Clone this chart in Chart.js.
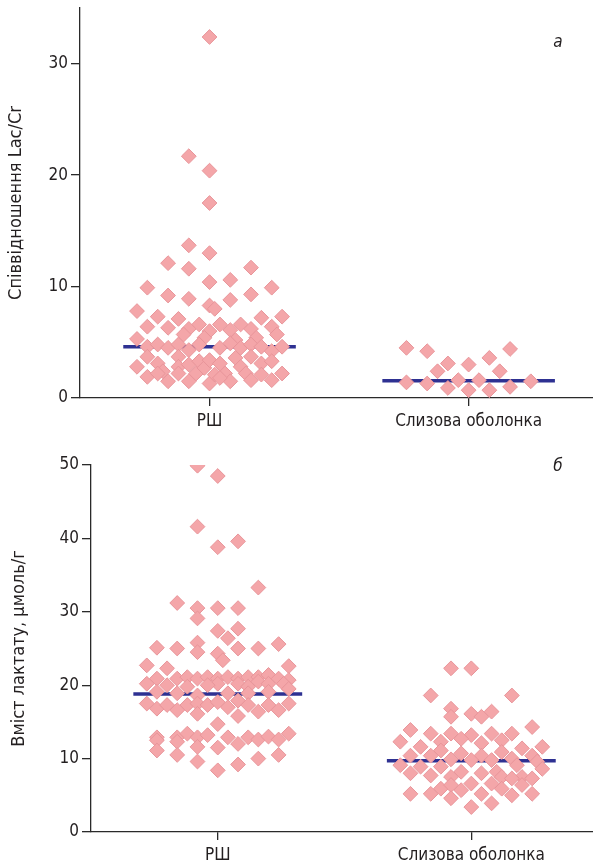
<!DOCTYPE html>
<html>
<head>
<meta charset="utf-8">
<script src="https://cdn.jsdelivr.net/npm/chart.js@4/dist/chart.umd.min.js"></script>
<style>
  body { margin: 0; background: #fff; }
  canvas { display: block; }
</style>
</head>
<body>
<canvas id="graficoLac" width="593" height="432"></canvas>
<canvas id="graficoLactat" width="593" height="433"></canvas>
<script>
// categories
const categorias = ['РШ', 'Слизова оболонка']

// panel a: Lac/Cr ratio (col = jitter column, val = value)
const lacRshCol = [0, -2, 0, 0, -2, 0, -4, -2, 4, 0, 2, -6, 6, -4, -2, 4, 2, 0, 0.5, -7, -5, -3, 5, 7,
  -6, -4, -2, -1, 1, 2, 3, 4, 6, 6.5, -2.5, 0, -0.5, -7, 4.5, 2.5,
  -6, -5, -4, -3, -2, -1, 1, 2, 3, 4, 5, 6, 7,
  -7, -6, -6, -5, -4.5, -4, -3, -3, -2, -2, -1.3, -1, -0.5, 0, 0, 0.5, 1, 1.5, 2, 2.5, 3, 3.5, 4, 4, 5, 6, 7, 6,
  1, -5, -3, 5]
const lacRshVal = [32.4, 21.7, 20.4, 17.5, 13.7, 13.0, 12.1, 11.6, 11.7, 10.4, 10.6, 9.9, 9.9, 9.2, 8.9, 9.3, 8.8, 8.3, 8.0, 7.8, 7.3, 7.1, 7.2, 7.3,
  6.4, 6.3, 6.2, 6.6, 6.6, 6.1, 6.6, 6.2, 6.4, 5.7, 5.7, 6.0, 5.4, 5.3, 5.4, 5.2,
  4.6, 4.8, 4.5, 4.8, 4.3, 4.8, 4.5, 4.9, 4.5, 4.8, 4.6, 4.2, 4.6,
  2.8, 3.7, 1.9, 3.1, 2.4, 1.5, 3.7, 2.8, 3.0, 1.5, 2.2, 3.3, 2.7, 1.3, 3.4, 2.1, 3.1, 2.2, 1.5, 3.6, 2.8, 2.2, 1.6, 3.7, 3.1, 1.6, 2.2, 3.3,
  1.8, 2.2, 2.2, 2.1]
const lacMucCol = [-6, -4, -2, -3, 0, 2, 4, 3, -6, -4, -2, -1, 0, 1, 2, 4, 6]
const lacMucVal = [4.5, 4.2, 3.1, 2.4, 3.0, 3.6, 4.4, 2.4, 1.4, 1.3, 0.9, 1.6, 0.7, 1.6, 0.7, 1.0, 1.5]
const lacMedianas = [4.6, 1.55]
const lacTicks = [0, 10, 20, 30]

// panel b: lactate content
const lactRshCol = [-2, 0, -2, 0, 2, 4, -4, -2, 0, 2, -2, 0, 2, 1, -6, -4, -2, -2, 0, 2, 4, 6,
  0.5, -7, -5, 7,
  -6, -4, -3, -2, -1, 0, 1, 2, 3, 4, 5, 6, 7,
  -7, -5, 0, 2, 4, 6.5, -3, -1, 3, 5,
  -6, -4, -2, 1, 3, 5, 7,
  -7, -6, -5, -4, -3, -2, -1, 0, 1, 2, 3, 4, 5, 6, 7,
  -2, 2, 0,
  -6, -4, -3, -2, -1, 1, 3, 4, 5, 6, 7,
  -6, -4, 2, -6, -2, 0, -4, 4, 6, -2, 2, 0]
const lactRshVal = [49.9, 48.5, 41.6, 38.8, 39.6, 33.3, 31.2, 30.5, 30.5, 30.5, 29.1, 27.4, 27.7, 26.4, 25.1, 25.0, 25.8, 24.5, 24.3, 25.0, 25.0, 25.6,
  23.4, 22.7, 22.3, 22.6,
  20.9, 20.9, 21.1, 20.9, 21.1, 20.9, 21.1, 20.9, 21.1, 21.1, 21.4, 20.9, 20.7,
  20.2, 20.0, 20.2, 20.2, 20.5, 20.2, 19.8, 20.0, 19.8, 20.2,
  19.1, 18.9, 18.6, 18.9, 18.9, 19.1, 19.5,
  17.5, 16.8, 17.3, 16.6, 17.3, 17.5, 17.3, 17.7, 17.0, 17.9, 17.3, 16.4, 17.3, 16.6, 17.5,
  16.1, 15.8, 14.7,
  12.9, 12.9, 13.4, 12.9, 13.2, 12.9, 12.9, 12.6, 13.0, 12.6, 13.4,
  12.5, 12.3, 12.0, 11.1, 11.6, 11.5, 10.5, 10.0, 10.5, 9.6, 9.2, 8.4]
const lactMucCol = [-2, 0, -4, 4, -2, -2, 0, 1, 2, 6,
  -6, -4, -2, 0, 2, 4,
  -7, -1, -5, -3, 1, 3, 5, 7,
  -6, -4, -3, -1, 1, 3, 4, 6, 6.5,
  -7, -5, -3, -2, 0, 2, 4.5, 7,
  -6, -4, -2, -1, 1, 2.5, 3, 5, 6,
  -3, -2, -1, 0, 2, 3, 4, 5,
  -6, -4, -2, 1, 4, 6, 0, 2]
const lactMucVal = [22.3, 22.3, 18.6, 18.6, 16.8, 15.7, 16.1, 15.7, 16.4, 14.3,
  13.9, 13.4, 13.4, 13.2, 13.4, 13.4,
  12.3, 12.7, 11.6, 12.3, 12.1, 12.5, 11.4, 11.6,
  10.4, 10.4, 11.1, 10.7, 10.4, 10.9, 10.0, 10.4, 9.6,
  9.1, 8.9, 8.9, 9.9, 9.8, 9.8, 9.1, 8.6,
  8.0, 7.7, 7.5, 8.2, 8.0, 8.2, 7.5, 7.5, 7.3,
  5.9, 6.4, 5.7, 6.6, 6.6, 5.9, 7.3, 6.4,
  5.2, 5.2, 4.6, 5.2, 5.0, 5.2, 3.4, 3.9]
const lactMedianas = [18.8, 9.7]
const lactTicks = [0, 10, 20, 30, 40, 50]

const fonte = { family: "'DejaVu Sans Condensed', 'Liberation Sans Narrow', sans-serif", size: 17 }
const fonteTitulo = { family: fonte.family, size: 18 }
const corTexto = '#231f20'
const corEixo = '#2a2a2a'

function geraPontos(centro, colunas, valores) {
    return valores.map((v, i) => ({ x: centro + colunas[i] * 0.04, y: v }))
}

function geraMediana(centro, valor) {
    return [{ x: centro - 0.333, y: valor }, { x: centro + 0.333, y: valor }]
}

function pontosDataset(dados) {
    return {
        data: dados,
        pointStyle: 'rectRot',
        pointRadius: 7.4,
        pointHoverRadius: 7.4,
        backgroundColor: '#f4a6a9',
        borderColor: '#e8959a',
        borderWidth: 1,
        order: 1
    }
}

function medianaDataset(dados) {
    return {
        data: dados,
        showLine: true,
        pointRadius: 0,
        borderColor: '#2e3192',
        borderWidth: 3.5,
        order: 2
    }
}

const letraPainel = {
    id: 'letraPainel',
    afterDraw(chart, args, opts) {
        const ctx = chart.ctx
        ctx.save()
        ctx.font = 'italic 17px ' + fonte.family
        ctx.fillStyle = corTexto
        ctx.textAlign = 'center'
        ctx.textBaseline = 'middle'
        ctx.fillText(opts.texto, opts.x, opts.y)
        ctx.restore()
    }
}

function criaGrafico(canvas, cfg) {
    return new Chart(canvas, {
        type: 'scatter',
        data: {
            datasets: [
                pontosDataset(geraPontos(1, cfg.rshCol, cfg.rshVal)),
                pontosDataset(geraPontos(2, cfg.mucCol, cfg.mucVal)),
                medianaDataset(geraMediana(1, cfg.medianas[0])),
                medianaDataset(geraMediana(2, cfg.medianas[1]))
            ]
        },
        options: {
            responsive: false,
            animation: false,
            layout: { autoPadding: false, padding: { top: cfg.topo, right: 0, left: 0, bottom: 0 } },
            plugins: {
                legend: { display: false },
                tooltip: { enabled: false },
                letraPainel: { texto: cfg.letra, x: 558, y: cfg.letraY }
            },
            scales: {
                x: {
                    type: 'linear',
                    min: 0.5,
                    max: 2.48,
                    afterBuildTicks: s => { s.ticks = [{ value: 1 }, { value: 2 }] },
                    afterFit: s => { s.height = cfg.alturaX; s.paddingLeft = 0; s.paddingRight = 0 },
                    ticks: { callback: (v, i) => categorias[i], font: fonte, color: corTexto, padding: 5, maxRotation: 0 },
                    grid: { drawOnChartArea: false, tickLength: 8, color: corEixo, lineWidth: 1.3 },
                    border: { color: corEixo, width: 1.3 }
                },
                y: {
                    min: 0,
                    max: cfg.yMax,
                    afterBuildTicks: s => { s.ticks = cfg.ticks.map(v => ({ value: v })) },
                    afterFit: s => { s.width = cfg.larguraY; s.paddingTop = 0; s.paddingBottom = 0 },
                    ticks: { font: fonte, color: corTexto, padding: 3 },
                    grid: { drawOnChartArea: false, tickLength: 9, color: corEixo, lineWidth: 1.3 },
                    border: { color: corEixo, width: 1.3 },
                    title: { display: true, text: cfg.titulo, font: fonteTitulo, color: corTexto, padding: { top: cfg.tituloPad, bottom: 0 } }
                }
            }
        },
        plugins: [letraPainel]
    })
}

// a
criaGrafico(document.getElementById('graficoLac'), {
    rshCol: lacRshCol, rshVal: lacRshVal, mucCol: lacMucCol, mucVal: lacMucVal,
    medianas: lacMedianas, ticks: lacTicks, yMax: 35,
    titulo: 'Співвідношення Lac/Cr', letra: 'а', letraY: 43,
    topo: 8, alturaX: 34, larguraY: 80, tituloPad: 6
})

// б
criaGrafico(document.getElementById('graficoLactat'), {
    rshCol: lactRshCol, rshVal: lactRshVal, mucCol: lactMucCol, mucVal: lactMucVal,
    medianas: lactMedianas, ticks: lactTicks, yMax: 50,
    titulo: 'Вміст лактату, μмоль/г', letra: 'б', letraY: 35,
    topo: 33, alturaX: 33, larguraY: 91, tituloPad: 9
})
</script>
</body>
</html>
